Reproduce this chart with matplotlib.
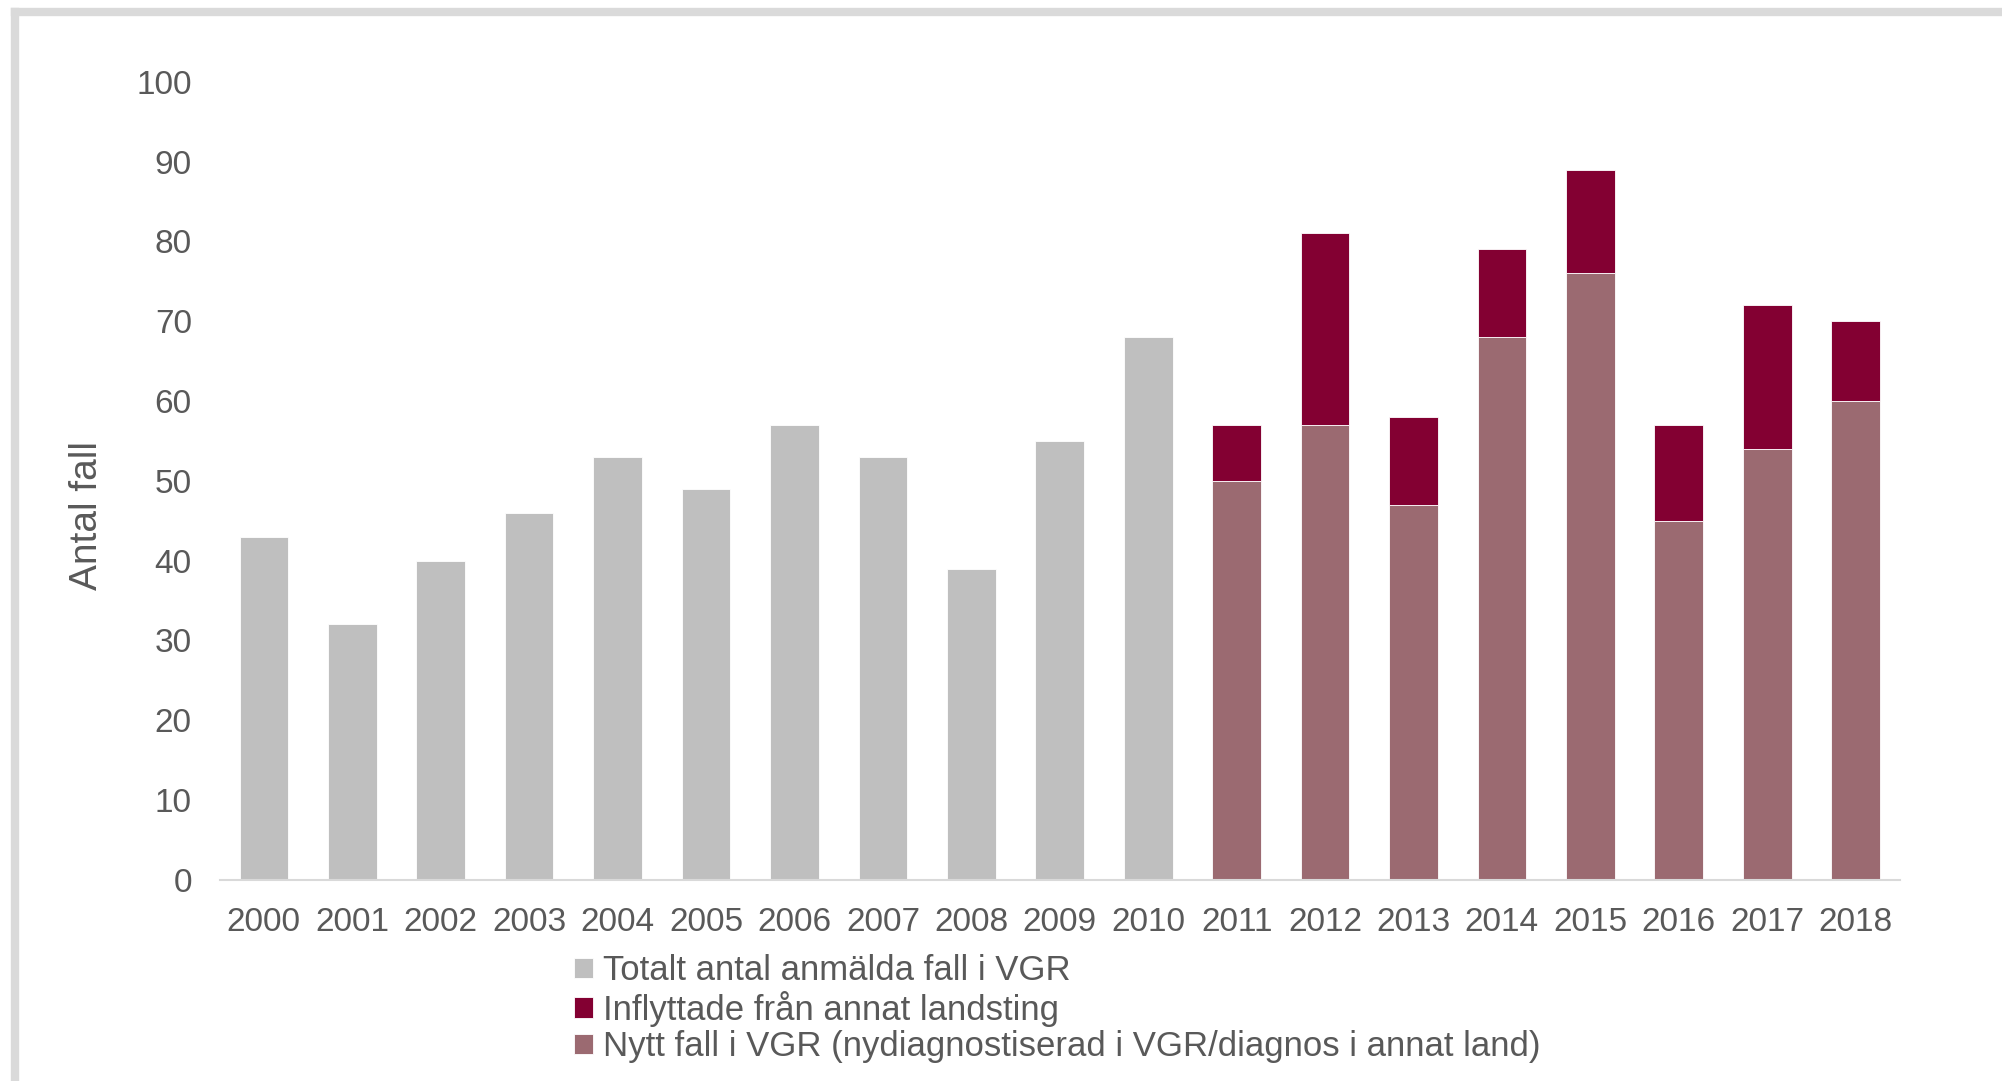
import numpy as np
import matplotlib.pyplot as plt
from matplotlib.lines import Line2D

plt.rcParams['font.family'] = ['Liberation Sans', 'DejaVu Sans']

years = [str(y) for y in range(2000, 2019)]
totalt = [43, 32, 40, 46, 53, 49, 57, 53, 39, 55, 68]          # 2000-2010
nytt = [50, 57, 47, 68, 76, 45, 54, 60]                          # 2011-2018
inflyttade = [7, 24, 11, 11, 13, 12, 18, 10]                     # 2011-2018

c_grey = '#BFBFBF'
c_infl = '#830032'
c_nytt = '#9B6A71'
c_text = '#595959'

fig = plt.figure(figsize=(20.02, 10.81), dpi=100)
ax = fig.add_axes([0.1097, 0.1862, 0.8393, 0.7382])

x = np.arange(len(years))
w = 0.55
n_old = len(totalt)
b1 = ax.bar(x[:n_old], totalt, width=w, color=c_grey, edgecolor='white', linewidth=0.6)
b3 = ax.bar(x[n_old:], nytt, width=w, color=c_nytt, edgecolor='white', linewidth=0.6)
b2 = ax.bar(x[n_old:], inflyttade, width=w, bottom=nytt, color=c_infl, edgecolor='white', linewidth=0.6)

ax.set_xlim(-0.5, len(years) - 0.5)
ax.set_ylim(0, 100)
ax.set_yticks(range(0, 101, 10))
ax.set_xticks(x)
ax.set_xticklabels(years)
ax.tick_params(axis='both', length=0, labelsize=24, labelcolor=c_text)
ax.tick_params(axis='y', pad=20)
ax.tick_params(axis='x', pad=20)
for s in ['top', 'right', 'left']:
    ax.spines[s].set_visible(False)
ax.spines['bottom'].set_color('#D9D9D9')
ax.spines['bottom'].set_linewidth(1.5)
ax.set_ylabel('Antal fall', fontsize=28, color=c_text)
ax.yaxis.set_label_coords(-0.068, 0.456)

fig.legend([b1, b2, b3],
           ['Totalt antal anmälda fall i VGR',
            'Inflyttade från annat landsting',
            'Nytt fall i VGR (nydiagnostiserad i VGR/diagnos i annat land)'],
           loc='upper left', bbox_to_anchor=(0.280, 0.130), frameon=False,
           fontsize=25, labelcolor=c_text, handlelength=0.53, handleheight=0.53,
           handletextpad=0.3, labelspacing=0.1, borderaxespad=0)

# shadow frame on top and left
fig.add_artist(Line2D([0.0075, 1.0], [0.9885, 0.9885], color='#DADADA', lw=6,
                      transform=fig.transFigure))
fig.add_artist(Line2D([0.0075, 0.0075], [0.0, 0.9885], color='#DADADA', lw=6,
                      transform=fig.transFigure))

fig.savefig('out.png', dpi=100)
